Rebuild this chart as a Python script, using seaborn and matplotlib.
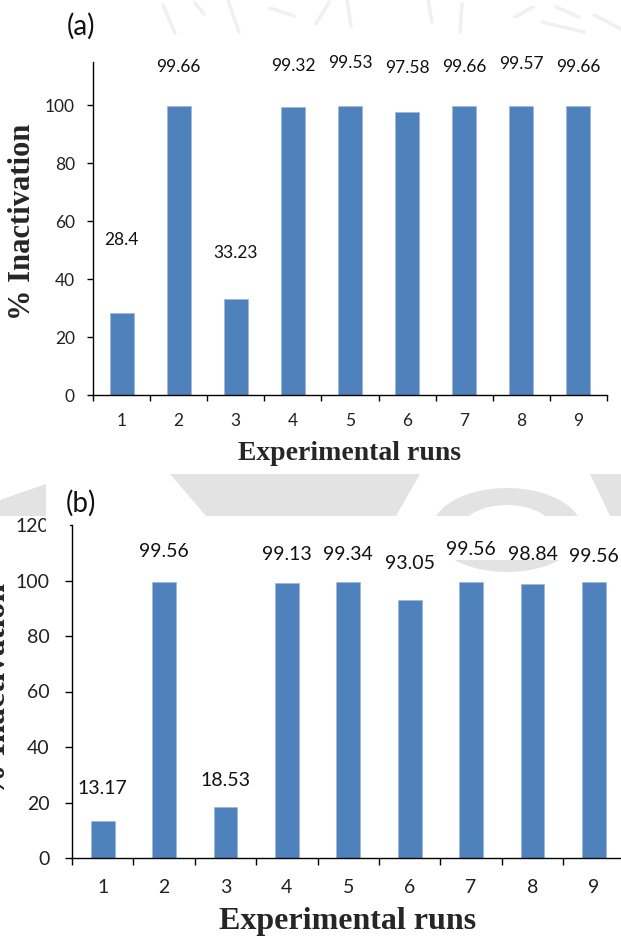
import numpy as np
import pandas as pd
import matplotlib
matplotlib.use("Agg")
import matplotlib.pyplot as plt
import seaborn as sns
from matplotlib.patches import Rectangle, Ellipse, Polygon
from matplotlib.lines import Line2D

# ---------------- data ----------------
runs = ["1", "2", "3", "4", "5", "6", "7", "8", "9"]
inact_a = [28.4, 99.66, 33.23, 99.32, 99.53, 97.58, 99.66, 99.57, 99.66]
inact_b = [13.17, 99.56, 18.53, 99.13, 99.34, 93.05, 99.56, 98.84, 99.56]
text_a = ["28.4", "99.66", "33.23", "99.32", "99.53", "97.58", "99.66", "99.57", "99.66"]
text_b = ["13.17", "99.56", "18.53", "99.13", "99.34", "93.05", "99.56", "98.84", "99.56"]
yticks_a = [0, 20, 40, 60, 80, 100]
yticks_b = [0, 20, 40, 60, 80, 100, 120]

# ---------------- layout (label heights in data units, as placed by hand) ----------------
lab_y_a = [53.4, 113.1, 49.0, 113.4, 114.5, 112.8, 113.1, 114.1, 113.1]
lab_y_b = [25.2, 110.3, 28.1, 109.2, 109.2, 106.3, 111.0, 109.2, 108.5]

W, H = 621, 941
BLUE = "#4F81BD"
NUM_FONT = ["Lato", "DejaVu Sans"]
LAB_FONT = ["Liberation Serif", "DejaVu Serif"]

sns.set_theme(style="white")
plt.rcParams["font.family"] = NUM_FONT

fig = plt.figure(figsize=(W / 100, H / 100), dpi=100)
fig.patch.set_facecolor("white")


def fx(px):
    return px / W


def fy(py):
    return 1 - py / H


def bg(patch, z=-5):
    patch.set_transform(fig.transFigure)
    patch.set_zorder(z)
    fig.patches.append(patch)


def P(pts):
    return [(fx(x), fy(y)) for x, y in pts]


# ---- watermark-like band between the two panels ----
GRAY = "#e3e3e3"
bg(Polygon(P([(0, 500), (46, 484), (46, 516), (0, 516)]), closed=True,
           facecolor=GRAY, edgecolor="none"), -5)
bg(Polygon(P([(170, 474), (420, 474), (396, 516), (206, 516)]), closed=True,
           facecolor=GRAY, edgecolor="none"), -5)
bg(Ellipse((fx(507), fy(530)), 150 / W, 84 / H, facecolor=GRAY, edgecolor="none"), -5)
bg(Ellipse((fx(507), fy(532)), 95 / W, 54 / H, facecolor="white", edgecolor="none"), -4.5)
bg(Polygon(P([(590, 474), (621, 474), (621, 516), (610, 516)]), closed=True,
           facecolor=GRAY, edgecolor="none"), -5)
bg(Rectangle((0, fy(560)), 1, (560 - 516) / H, facecolor="white", edgecolor="none"), -3)

# ---- faint watermark strokes at the very top ----
strokes = [[(163, 5), (175, 33)], [(195, 3), (204, 14)], [(228, 0), (239, 32)],
           [(270, 8), (294, 16)], [(316, 24), (329, 2)], [(347, 0), (351, 26)],
           [(428, 0), (432, 22)], [(462, 4), (460, 32)], [(515, 17), (533, 7)],
           [(542, 22), (584, 32)], [(556, 7), (579, 17)], [(594, 15), (621, 29)]]
for s in strokes:
    (x0, y0), (x1, y1) = s
    fig.lines.append(Line2D([fx(x0), fx(x1)], [fy(y0), fy(y1)], transform=fig.transFigure,
                            color="#f0f0f0", lw=2.5, solid_capstyle="round", zorder=-5))


def draw_panel(ax, values, texts, lab_y, yticks, ylim, width, numsize, tick_len, ypad, xpad):
    df = pd.DataFrame({"run": runs, "val": values})
    sns.barplot(data=df, x="run", y="val", order=runs, color=BLUE, saturation=1,
                width=width, edgecolor="#9db8dc", linewidth=0.6, ax=ax)
    ax.set_facecolor("none")
    ax.set_xlim(-0.5, 8.5)
    ax.set_ylim(*ylim)
    ax.set_yticks(yticks)
    ax.set_yticklabels([str(t) for t in yticks], fontsize=numsize, family=NUM_FONT)
    ax.set_xticks(range(len(runs)))
    ax.set_xticklabels(runs, fontsize=numsize, family=NUM_FONT)
    ax.set_xticks(np.arange(-0.5, len(runs), 1.0), minor=True)
    ax.tick_params(axis="x", which="major", length=0, pad=xpad, labelcolor="#222222")
    ax.tick_params(axis="x", which="minor", length=tick_len, width=1, direction="out",
                   color="black", bottom=True)
    ax.tick_params(axis="y", which="major", length=tick_len, width=1, direction="out",
                   pad=ypad, left=True, color="black", labelcolor="#222222")
    for s in ["top", "right"]:
        ax.spines[s].set_visible(False)
    for s in ["left", "bottom"]:
        ax.spines[s].set_color("black")
        ax.spines[s].set_linewidth(1)
    ax.set_xlabel("")
    ax.set_ylabel("")
    for i, (t, yv) in enumerate(zip(texts, lab_y)):
        ax.text(i, yv, t, ha="center", va="center", fontsize=numsize,
                family=NUM_FONT, color="#111111", clip_on=False)


# ---------------- panel (a) ----------------
ax_a = fig.add_axes([fx(93), fy(395), 514 / W, (395 - 61.5) / H])
draw_panel(ax_a, inact_a, text_a, lab_y_a, yticks_a, (0, 115), 0.42, 12.5, 4, 9, 13)
fig.text(fx(81), fy(26), "(a)", ha="center", va="center", fontsize=20, family=NUM_FONT,
         color="#111111")
fig.text(fx(350), fy(453), "Experimental runs", ha="center", va="center", fontsize=20,
         family=LAB_FONT, fontweight="bold")
fig.text(fx(23), fy(222), "% Inactivation", ha="center", va="center", rotation=90,
         fontsize=22, family=LAB_FONT, fontweight="bold")

# ---------------- panel (b) ----------------
ax_b = fig.add_axes([fx(72), fy(858), 552.6 / W, (858 - 525) / H])
draw_panel(ax_b, inact_b, text_b, lab_y_b, yticks_b, (0, 120), 0.39, 14, 5, 11, 15)
fig.text(fx(81), fy(503), "(b)", ha="center", va="center", fontsize=20, family=NUM_FONT,
         color="#111111", zorder=5)
fig.text(fx(348), fy(922), "Experimental runs", ha="center", va="center", fontsize=23,
         family=LAB_FONT, fontweight="bold")
fig.text(fx(12), fy(690), "% Inactivation", ha="right", va="center", rotation=90,
         fontsize=24, family=LAB_FONT, fontweight="bold")

# white strip cutting the top tick label of panel (b), as in the source image
fig.patches.append(Rectangle((fx(46), fy(540)), 24 / W, 25 / H, transform=fig.transFigure,
                             facecolor="white", edgecolor="none", zorder=10))

fig.savefig("out.png", dpi=100)
